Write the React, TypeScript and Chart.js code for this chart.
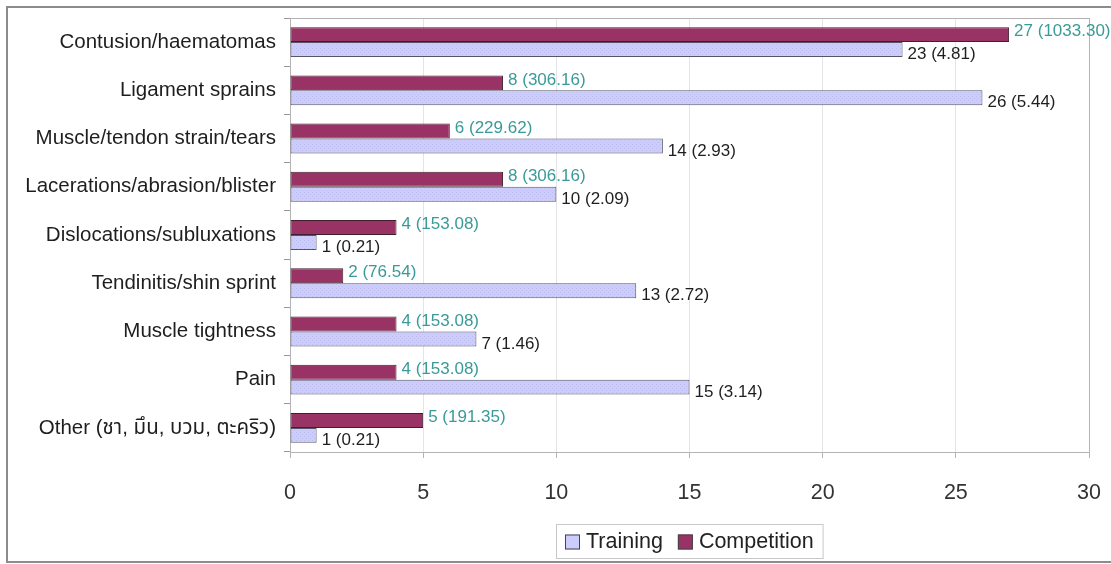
import React, { useEffect, useRef } from "react";
import { Chart, registerables } from "chart.js";

Chart.register(...registerables);

const categories = [
  "Contusion/haematomas",
  "Ligament sprains",
  "Muscle/tendon strain/tears",
  "Lacerations/abrasion/blister",
  "Dislocations/subluxations",
  "Tendinitis/shin sprint",
  "Muscle tightness",
  "Pain",
  "Other (ชา, มึน, บวม, ตะคริว)",
];
const competitionValues = [27, 8, 6, 8, 4, 2, 4, 4, 5];
const competitionLabels = [
  "27 (1033.30)",
  "8 (306.16)",
  "6 (229.62)",
  "8 (306.16)",
  "4 (153.08)",
  "2 (76.54)",
  "4 (153.08)",
  "4 (153.08)",
  "5 (191.35)",
];
const trainingValues = [23, 26, 14, 10, 1, 13, 7, 15, 1];
const trainingLabels = [
  "23 (4.81)",
  "26 (5.44)",
  "14 (2.93)",
  "10 (2.09)",
  "1 (0.21)",
  "13 (2.72)",
  "7 (1.46)",
  "15 (3.14)",
  "1 (0.21)",
];
const xMin = 0;
const xMax = 30;
const xStep = 5;

const FONT = "'Liberation Sans', Arial, 'Noto Sans Thai', 'Noto Sans', sans-serif";
const COMP_COLOR = "#993366";
const TRAIN_COLOR = "#CCCCFF";
const COMP_LABEL_COLOR = "#3a9a98";
const TRAIN_LABEL_COLOR = "#1e1e1e";

function makePattern(): CanvasPattern | string {
  const c = document.createElement("canvas");
  c.width = 4;
  c.height = 4;
  const g = c.getContext("2d");
  if (!g) return TRAIN_COLOR;
  g.fillStyle = TRAIN_COLOR;
  g.fillRect(0, 0, 4, 4);
  g.fillStyle = "#bdbdee";
  g.fillRect(0, 0, 1, 1);
  g.fillRect(2, 2, 1, 1);
  const p = g.createPattern(c, "repeat");
  return p || TRAIN_COLOR;
}

const decorPlugin = {
  id: "decor",
  beforeDraw(chart: any) {
    const ctx = chart.ctx;
    ctx.save();
    ctx.fillStyle = "#ffffff";
    ctx.fillRect(0, 0, chart.width, chart.height);
    ctx.strokeStyle = "#8c8c8c";
    ctx.lineWidth = 2;
    ctx.strokeRect(7, 7, chart.width + 10, chart.height - 9);
    ctx.restore();
  },
  beforeDatasetsDraw(chart: any) {
    const { ctx, chartArea } = chart;
    ctx.save();
    ctx.strokeStyle = "#b4b4b4";
    ctx.lineWidth = 1;
    ctx.strokeRect(
      Math.round(chartArea.left) + 0.5,
      Math.round(chartArea.top) + 0.5,
      Math.round(chartArea.right - chartArea.left),
      Math.round(chartArea.bottom - chartArea.top)
    );
    ctx.restore();
  },
  afterDatasetsDraw(chart: any) {
    const ctx = chart.ctx;
    ctx.save();
    ctx.font = `17px ${FONT}`;
    ctx.textAlign = "left";
    ctx.textBaseline = "middle";
    chart.data.datasets.forEach((ds: any, di: number) => {
      const meta = chart.getDatasetMeta(di);
      const labels: string[] = ds.valueLabels;
      const dy = ds.labelOffset;
      ctx.fillStyle = ds.labelColor;
      meta.data.forEach((bar: any, i: number) => {
        ctx.fillText(labels[i], bar.x + 5, bar.y + dy);
      });
    });
    ctx.restore();
  },
  afterDraw(chart: any) {
    const { ctx, chartArea } = chart;
    ctx.save();
    const items = [...chart.data.datasets].reverse();
    ctx.font = `21.5px ${FONT}`;
    ctx.textBaseline = "middle";
    ctx.textAlign = "left";
    const box = 15;
    const gapBoxText = 6;
    const gapItems = 15;
    const padX = 9;
    const widths = items.map((d: any) => box + gapBoxText + ctx.measureText(d.label).width);
    const total = widths.reduce((a: number, b: number) => a + b, 0) + gapItems * (items.length - 1) + padX * 2;
    const cx = (chartArea.left + chartArea.right) / 2;
    const left = Math.round(cx - total / 2);
    const top = 524;
    const h = 34;
    ctx.strokeStyle = "#c8c8c8";
    ctx.lineWidth = 1;
    ctx.strokeRect(left + 0.5, top + 0.5, total, h);
    let x = left + padX;
    const cy = top + h / 2 + 1;
    items.forEach((d: any, i: number) => {
      ctx.fillStyle = d.legendColor;
      ctx.fillRect(x, cy - box / 2, box, box);
      ctx.strokeStyle = "#444";
      ctx.strokeRect(x + 0.5, cy - box / 2 + 0.5, box - 1, box - 1);
      ctx.fillStyle = "#222";
      ctx.fillText(d.label, x + box + gapBoxText, cy);
      x += widths[i] + gapItems;
    });
    ctx.restore();
  },
};

export default function App() {
  const canvasRef = useRef<HTMLCanvasElement | null>(null);

  useEffect(() => {
    const canvas = canvasRef.current;
    if (!canvas) return;
    const pattern = makePattern();
    const chart = new Chart(canvas, {
      type: "bar",
      data: {
        labels: categories,
        datasets: [
          {
            label: "Competition",
            data: competitionValues,
            backgroundColor: COMP_COLOR,
            borderColor: "#40202e",
            borderWidth: 1,
            borderSkipped: false,
            categoryPercentage: 0.62,
            barPercentage: 1.0,
            valueLabels: competitionLabels,
            labelColor: COMP_LABEL_COLOR,
            labelOffset: -3,
            legendColor: COMP_COLOR,
          } as any,
          {
            label: "Training",
            data: trainingValues,
            backgroundColor: pattern as any,
            borderColor: "#555566",
            borderWidth: 1,
            borderSkipped: false,
            categoryPercentage: 0.62,
            barPercentage: 1.0,
            valueLabels: trainingLabels,
            labelColor: TRAIN_LABEL_COLOR,
            labelOffset: 5,
            legendColor: TRAIN_COLOR,
          } as any,
        ],
      },
      options: {
        indexAxis: "y",
        responsive: false,
        animation: false,
        devicePixelRatio: 1,
        layout: { padding: { top: 18, right: 22, left: 0, bottom: 0 } },
        plugins: {
          legend: { display: false },
          tooltip: { enabled: false },
          title: { display: false },
        },
        scales: {
          x: {
            type: "linear",
            min: xMin,
            max: xMax,
            ticks: {
              stepSize: xStep,
              padding: 22,
              color: "#333",
              font: { family: FONT, size: 21.5 },
            },
            grid: {
              color: "#e4e4e4",
              tickLength: 6,
              tickColor: "#b4b4b4",
            },
            border: { display: true, color: "#b4b4b4" },
            afterFit(scale: any) {
              scale.height = 112;
              scale.paddingLeft = 0;
              scale.paddingRight = 0;
            },
          },
          y: {
            type: "category",
            offset: true,
            ticks: {
              padding: 8,
              color: "#1e1e1e",
              font: { family: FONT, size: 20.5 },
            },
            grid: {
              display: true,
              drawOnChartArea: false,
              drawTicks: true,
              tickLength: 6,
              offset: true,
              tickColor: "#999",
            },
            border: { display: true, color: "#999" },
            afterFit(scale: any) {
              scale.width = 290;
              scale.paddingTop = 0;
              scale.paddingBottom = 0;
            },
          },
        },
      },
      plugins: [decorPlugin],
    } as any);
    return () => chart.destroy();
  }, []);

  return (
    <div style={{ position: "fixed", left: 0, top: 0, width: 1111, height: 564, background: "#fff" }}>
      <canvas ref={canvasRef} width={1111} height={564} style={{ display: "block", width: 1111, height: 564 }} />
    </div>
  );
}
